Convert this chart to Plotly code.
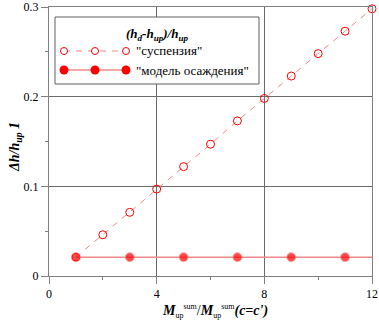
import plotly.graph_objects as go

# Data
susp_x = [1, 2, 3, 4, 5, 6, 7, 8, 9, 10, 11, 12]
susp_y = [0.021, 0.046, 0.071, 0.097, 0.122, 0.147, 0.173, 0.198, 0.223, 0.248, 0.273, 0.298]
model_x = [1, 3, 5, 7, 9, 11, 12]
model_y = [0.021, 0.021, 0.021, 0.021, 0.021, 0.021, 0.021]
model_marker = [1, 1, 1, 1, 1, 1, 0]

legend_title = "<b><i>(h<sub>d</sub>-h<sub>up</sub>)/h<sub>up</sub></i></b>"
name_susp = '"суспензия"'
name_model = '"модель осаждения"'
x_title = ("<b><i>M</i></b><sub><span style='font-size:8px'>up</span></sub>"
           "<sup><span style='font-size:8px'>sum</span></sup>/"
           "<b><i>M</i></b><sub><span style='font-size:8px'>up</span></sub>"
           "<sup><span style='font-size:8px'>sum</span></sup><b><i>(c=c')</i></b>")
y_title = "<b><i>Δh/h<sub>up</sub> 1</i></b>"

FONT = "Liberation Serif"
RED = "#ff0000"
PINK = "#f08a8a"

fig = go.Figure()
fig.add_trace(go.Scatter(
    x=susp_x, y=susp_y, mode="lines+markers", name=name_susp,
    line=dict(color=PINK, width=1, dash="6px,6px"),
    marker=dict(symbol="circle-open", size=8, color=RED, line=dict(width=1)),
    showlegend=False, cliponaxis=False))
fig.add_trace(go.Scatter(
    x=model_x, y=model_y, mode="lines+markers", name=name_model,
    line=dict(color=PINK, width=1.5),
    marker=dict(symbol="circle", size=[9 * m for m in model_marker], color=RED),
    showlegend=False, cliponaxis=False))

axis_common = dict(
    showline=True, mirror=True, linecolor="#808080", linewidth=1,
    showgrid=True, gridcolor="#6a6a6a", gridwidth=1,
    ticks="outside", ticklen=7, tickcolor="#808080",
    tickfont=dict(family=FONT, size=12, color="#000"),
    zeroline=False, automargin=False,
)
fig.update_xaxes(range=[0, 12], dtick=4, tick0=0,
                 minor=dict(ticks="outside", dtick=2, ticklen=3, tickcolor="#808080", showgrid=False),
                 **axis_common)
fig.update_yaxes(range=[0, 0.3], dtick=0.1, tick0=0,
                 minor=dict(ticks="outside", dtick=0.05, ticklen=3, tickcolor="#808080", showgrid=False),
                 **axis_common)

# Geometry helpers for paper-positioned text/legend
L, R_, T, B = 55, 259, 17, 84
W, H = 379, 323
ml, mr, mt, mb = 49, 7, 7, 47
pw, ph = W - ml - mr, H - mt - mb
def px(x): return (x - ml) / pw
def py(y): return 1 - (y - mt) / ph

# Axis titles
fig.add_annotation(xref="paper", yref="paper", x=px(215), y=py(311), text=x_title,
                   xanchor="center", yanchor="middle", showarrow=False,
                   font=dict(family=FONT, size=14, color="#000"))
fig.add_annotation(xref="paper", yref="paper", x=px(15), y=py(147), text=y_title,
                   textangle=-90, xanchor="center", yanchor="middle", showarrow=False,
                   font=dict(family=FONT, size=14, color="#000"))

# Custom legend
fig.add_shape(type="rect", xref="paper", yref="paper",
              x0=px(L), x1=px(R_), y0=py(B), y1=py(T),
              line=dict(color="#606060", width=1), fillcolor="white", layer="above")
fig.add_annotation(xref="paper", yref="paper", x=px(157), y=py(34), text=legend_title,
                   xanchor="center", yanchor="middle", showarrow=False,
                   font=dict(family=FONT, size=13, color="#000"))
# entry 1
fig.add_shape(type="line", xref="paper", yref="paper", x0=px(64), x1=px(126), y0=py(51), y1=py(51),
              line=dict(color=PINK, width=1, dash="6px,6px"), layer="above")
for cx in (64, 95, 126):
    fig.add_shape(type="circle", xref="paper", yref="paper",
                  x0=px(cx - 3.5), x1=px(cx + 3.5), y0=py(51 + 3.5), y1=py(51 - 3.5),
                  line=dict(color=RED, width=1), fillcolor="white", layer="above")
fig.add_annotation(xref="paper", yref="paper", x=px(134), y=py(51), text=name_susp,
                   xanchor="left", yanchor="middle", showarrow=False,
                   font=dict(family=FONT, size=13, color="#000"))
# entry 2
fig.add_shape(type="line", xref="paper", yref="paper", x0=px(64), x1=px(126), y0=py(70), y1=py(70),
              line=dict(color=PINK, width=1.5), layer="above")
for cx in (64, 95, 126):
    fig.add_shape(type="circle", xref="paper", yref="paper",
                  x0=px(cx - 4.5), x1=px(cx + 4.5), y0=py(70 + 4.5), y1=py(70 - 4.5),
                  line=dict(color=RED, width=0), fillcolor=RED, layer="above")
fig.add_annotation(xref="paper", yref="paper", x=px(134), y=py(70), text=name_model,
                   xanchor="left", yanchor="middle", showarrow=False,
                   font=dict(family=FONT, size=13, color="#000"))

fig.update_layout(width=W, height=H, margin=dict(l=ml, r=mr, t=mt, b=mb, autoexpand=False),
                  plot_bgcolor="white", paper_bgcolor="white", showlegend=False,
                  font=dict(family=FONT))
fig.write_html("out.html", config={"displayModeBar": False},
               post_script="document.body.style.margin='0';document.body.style.padding='0';")
